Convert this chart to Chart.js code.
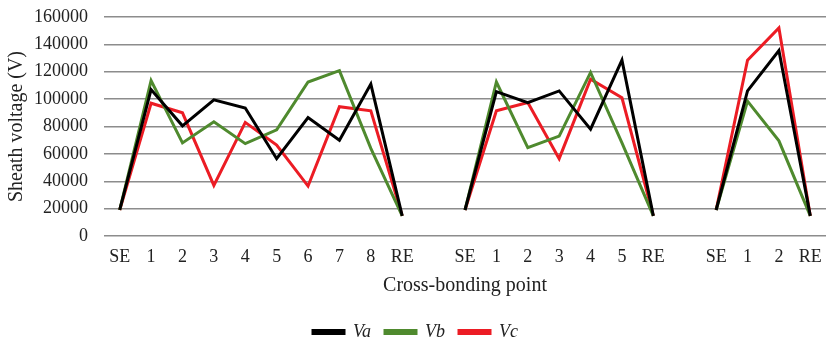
<!DOCTYPE html>
<html>
<head>
<meta charset="utf-8">
<script src="https://cdn.jsdelivr.net/npm/chart.js@4/dist/chart.umd.min.js"></script>
<style>
  html, body { margin: 0; padding: 0; background: #fff; }
  #wrap { width: 830px; height: 339px; }
</style>
</head>
<body>
<div id="wrap"><canvas id="chart" width="830" height="339"></canvas></div>
<script>
// three cable sections, separated by an empty category
const labels = ['SE','1','2','3','4','5','6','7','8','RE','',
                'SE','1','2','3','4','5','RE','',
                'SE','1','2','RE'];

const va = [19000,107000,80500,99500,93500,56500,86500,70000,111000,14700,null,
            19000,105500,97500,106000,78000,128500,14700,null,
            19000,106000,135500,14700];
const vb = [19000,113500,68000,83500,67500,77500,112500,120800,64000,14700,null,
            19000,112500,64500,73000,119500,68000,14700,null,
            19000,98500,69500,14700];
const vc = [19000,97000,90000,37000,83000,66500,36500,94500,91500,14700,null,
            19000,91500,97500,56500,114500,101000,14700,null,
            19000,128500,152000,14700];

const yTicks = { min: 0, max: 160000, step: 20000 };

const serif = '"Liberation Serif", "Times New Roman", serif';

function series(label, data, color) {
  return {
    label, data,
    borderColor: color,
    backgroundColor: color,
    borderWidth: 3,
    pointRadius: 0,
    tension: 0,
    spanGaps: false,
    fill: false,
  };
}

function draw() {
  new Chart(document.getElementById('chart').getContext('2d'), {
    type: 'line',
    data: {
      labels,
      datasets: [
        series('Va', va, '#000000'),
        series('Vb', vb, '#4f8a2e'),
        series('Vc', vc, '#ec1c24'),
      ]
    },
    options: {
      responsive: false,
      animation: false,
      layout: { padding: { left: 5, right: 4, top: 17, bottom: -12 } },
      scales: {
        x: {
          offset: true,
          grid: { display: false, drawTicks: false },
          border: { display: false },
          ticks: {
            autoSkip: false, maxRotation: 0, color: '#222', padding: 10,
            font: { family: serif, size: 18 }
          },
          title: {
            display: true, text: 'Cross-bonding point', color: '#222',
            font: { family: serif, size: 20 }, padding: { top: 0, bottom: 11 }
          },
          // fixed band under the plot: ticks + axis title
          afterFit: s => { s.height = 73; s.paddingLeft = 0; s.paddingRight = 0; }
        },
        y: {
          min: yTicks.min, max: yTicks.max,
          grid: { color: '#8c8c8c', lineWidth: 1.5, drawTicks: false },
          border: { display: false },
          ticks: {
            stepSize: yTicks.step, color: '#222', padding: 16,
            font: { family: serif, size: 18 },
            callback: v => String(v)
          },
          title: {
            display: true, text: 'Sheath voltage (V)', color: '#222',
            font: { family: serif, size: 20 }, padding: { top: 0, bottom: 5 }
          },
          afterFit: s => { s.width = 99; s.paddingTop = 0; s.paddingBottom = 0; }
        }
      },
      plugins: {
        legend: {
          position: 'bottom',
          labels: {
            boxWidth: 31, boxHeight: 3, padding: 14, color: '#222',
            font: { family: serif, size: 18, style: 'italic' }
          }
        },
        tooltip: { enabled: false }
      }
    }
  });
}

// make sure the serif faces are ready before Chart.js measures text
Promise.all([
  document.fonts.load('18px "Liberation Serif"'),
  document.fonts.load('italic 18px "Liberation Serif"')
]).then(draw, draw);
</script>
</body>
</html>
